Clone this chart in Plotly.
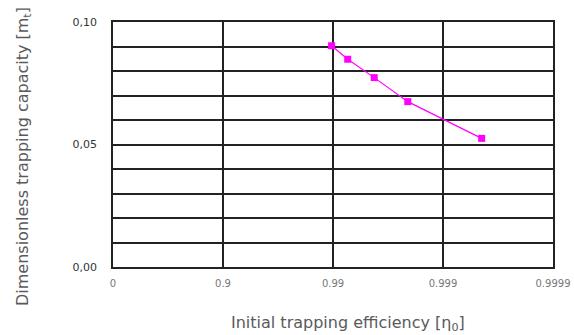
import numpy as np
import plotly.graph_objects as go

# Data
eta0 = [0.9897, 0.99265, 0.99578, 0.99791, 0.999555]   # initial trapping efficiency
m_t = [0.0903, 0.0848, 0.0773, 0.0675, 0.0525]        # dimensionless trapping capacity
x_tick_labels = ["0", "0.9", "0.99", "0.999", "0.9999"]
y_tick_vals = [0.0, 0.05, 0.10]
y_tick_labels = ["0,00", "0,05", "0,10"]

# x axis is a "nines" scale: position = -log10(1 - eta)
x_pos = [-np.log10(1 - e) for e in eta0]

L, R, T, B = 113, 21, 22, 68
W, H = 574, 335
pw, ph = W - L - R, H - T - B

fig = go.Figure()
fig.add_trace(go.Scatter(
    x=x_pos, y=m_t, mode="lines+markers",
    line=dict(color="#ff00ff", width=1.2),
    marker=dict(symbol="square", size=7, color="#ff00ff"),
    showlegend=False,
))

fig.update_layout(
    width=W, height=H,
    margin=dict(l=L, r=R, t=T, b=B, autoexpand=False),
    paper_bgcolor="white", plot_bgcolor="white",
    font=dict(family="DejaVu Sans, sans-serif", color="#555555"),
)
fig.update_xaxes(
    range=[0, 4], tickmode="array", tickvals=list(range(len(x_tick_labels))),
    ticktext=x_tick_labels, showgrid=True, gridcolor="#222222", gridwidth=1.5,
    showline=True, linecolor="#222222", linewidth=1.5, mirror=True,
    zeroline=False, ticks="", tickfont=dict(size=10, color="#777777"),
    ticklabelstandoff=6, automargin=False,
)
fig.update_yaxes(
    range=[0, 0.10], tickmode="array", tickvals=y_tick_vals, ticktext=y_tick_labels,
    showgrid=False, showline=True, linecolor="#222222", linewidth=1.5, mirror=True,
    zeroline=False, ticks="", tickfont=dict(size=11, color="#333333"),
    ticklabelstandoff=12, automargin=False,
    minor=dict(dtick=0.01, tick0=0, showgrid=True, gridcolor="#222222", gridwidth=1.5),
)

fig.add_annotation(
    text="Dimensionless trapping capacity [m<sub>t</sub>]",
    xref="paper", yref="paper", x=(23 - L) / pw, y=(H - B - 157) / ph,
    textangle=-90, showarrow=False, xanchor="center", yanchor="middle",
    font=dict(size=16, color="#5a5a5a"),
)
fig.add_annotation(
    text="Initial trapping efficiency [η<sub>0</sub>]",
    xref="paper", yref="paper", x=(348 - L) / pw, y=(H - B - 323) / ph,
    showarrow=False, xanchor="center", yanchor="middle",
    font=dict(size=16, color="#5a5a5a"),
)

fig.write_html(
    "out.html",
    config={"displayModeBar": False},
    post_script="document.body.style.margin='0';document.body.style.overflow='hidden';",
)
